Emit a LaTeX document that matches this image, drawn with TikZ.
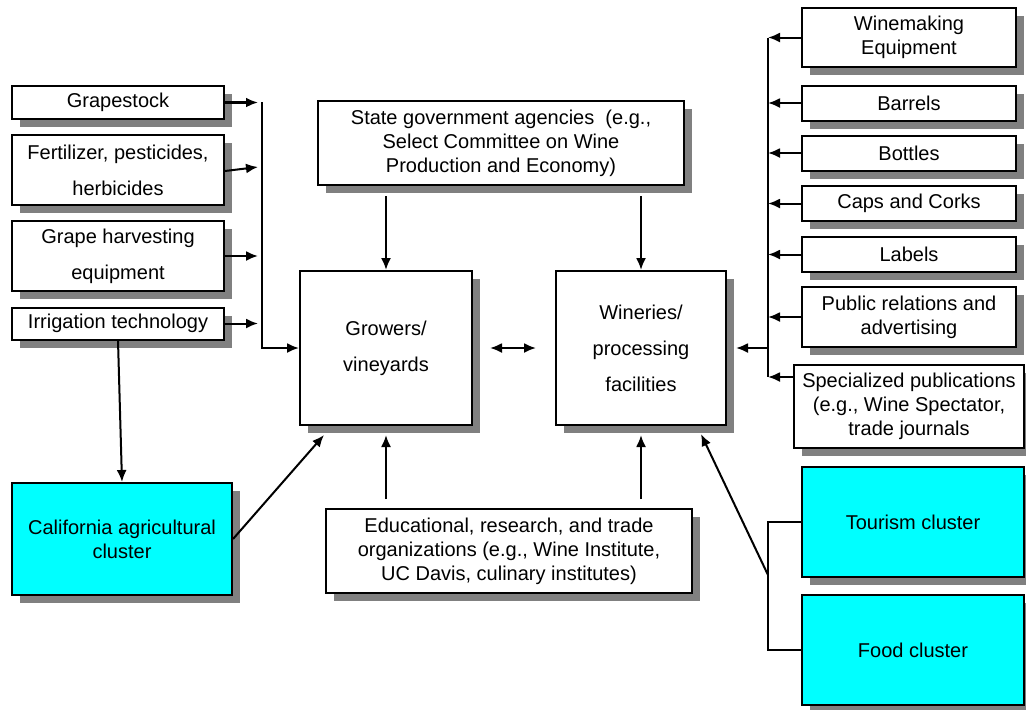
\documentclass[tikz,border=0pt]{standalone}
\usepackage{fontspec}
\setmainfont{Liberation Sans}
\usetikzlibrary{arrows.meta,calc,shadows}
\definecolor{aqua}{RGB}{0,255,255}

\tikzset{
  box/.style={draw, line width=1pt, fill=white, align=center, inner sep=2pt,
    drop shadow={shadow xshift=4pt, shadow yshift=-4pt, fill=black!50, opacity=1},
    font=\fontsize{10}{12}\selectfont},
  widebox/.style={box, font=\fontsize{10}{18}\selectfont},
  cluster/.style={box, fill=aqua},
  arr/.style={line width=1pt, -{Latex[length=6pt,width=5pt]}},
  arrboth/.style={line width=1pt, {Latex[length=6pt,width=5pt]}-{Latex[length=6pt,width=5pt]}},
}

\begin{document}
\begin{tikzpicture}[x=0.5pt,y=-0.5pt]
\useasboundingbox (0,0) rectangle (1026,709);
% suppliers to the growers
\node[box, minimum width=106pt, minimum height=16.5pt] (grape) at (118,102.5) {Grapestock};
\node[widebox, minimum width=106pt, minimum height=35pt] (fert) at (118,170) {Fertilizer, pesticides,\\herbicides};
\node[widebox, minimum width=106pt, minimum height=35pt] (harv) at (118,256) {Grape harvesting\\equipment};
\node[box, minimum width=106pt, minimum height=16pt] (irrig) at (118,323.5) {Irrigation technology};
\node[cluster, minimum width=110pt, minimum height=56pt] (calif) at (122,539) {California agricultural\\cluster};
% core of the cluster
\node[widebox, minimum width=86pt, minimum height=77pt] (grow) at (386,348) {Growers/\\vineyards};
\node[widebox, minimum width=85pt, minimum height=77pt] (winery) at (641,348) {Wineries/\\processing\\facilities};
\node[box, minimum width=183pt, minimum height=42pt] (state) at (501,143) {State government agencies~~(e.g.,\\Select Committee on Wine\\Production and Economy)};
\node[box, minimum width=183pt, minimum height=42pt] (edu) at (509,551) {Educational, research, and trade\\organizations (e.g., Wine Institute,\\UC Davis, culinary institutes)};
% suppliers to the wineries
\node[box, minimum width=107pt, minimum height=29.5pt] (equip) at (909,37.5) {Winemaking\\Equipment};
\foreach \n/\y/\t in {barrel/103/Barrels, bottle/153/Bottles, cork/203.5/Caps and Corks, label/254.5/Labels}{
  \node[box, minimum width=107pt, minimum height=17.5pt] (\n) at (909,\y) {\t};
}
\node[box, minimum width=107pt, minimum height=30pt] (pr) at (909,317) {Public relations and\\advertising};
\node[box, minimum width=115pt, minimum height=41.5pt] (spec) at (909,406.5) {Specialized publications\\(e.g., Wine Spectator,\\trade journals};
\node[cluster, minimum width=111pt, minimum height=55pt] (tour) at (913,522) {Tourism cluster};
\node[cluster, minimum width=111pt, minimum height=55pt] (food) at (913,650) {Food cluster};

% left feed line
\coordinate (lt) at (262,102);
\draw[arr, line width=1.5pt] (grape.east) -- ($(grape.east -| lt)+(-4,0)$);
\draw[arr] ($(fert.east)+(0,1)$) -- ($(fert.east -| lt)+(-4,-3)$);
\draw[arr] (harv.east) -- ($(harv.east -| lt)+(-4,0)$);
\draw[arr] (irrig.east) -- ($(irrig.east -| lt)+(-4,0)$);
\draw[arr] (lt) -- (lt |- grow.west) -- (grow.west);
\draw[arr] (irrig.south) -- (calif.north);
\draw[arr] (calif.east) -- ($(grow.south west)+(25,9)$);
% government and institutions
\draw[arr] ($(state.south -| grow.north)+(0,10)$) -- (grow.north);
\draw[arr] ($(state.south -| winery.north)+(0,10)$) -- (winery.north);
\draw[arr] ($(edu.north -| grow.south)+(0,-9)$) -- ($(grow.south)+(0,9)$);
\draw[arr] ($(edu.north -| winery.south)+(0,-9)$) -- ($(winery.south)+(0,9)$);
\draw[arrboth] ($(grow.east)+(17,0)$) -- ($(winery.west)+(-19,0)$);
% right feed line
\coordinate (rt) at (768,37.5);
\foreach \n in {equip,barrel,bottle,cork,label,pr}{
  \draw[arr] (\n.west) -- (\n.west -| rt);
}
\draw[arr] ($(spec.north west)+(0,13)$) -- ($(spec.north west -| rt)+(0,13)$);
\draw[line width=1pt] (rt) -- ($(spec.north west -| rt)+(0,13)$);
\draw[arr] (winery.east -| rt) -- ($(winery.east)+(9,0)$);
% related clusters
\coordinate (tf) at (768,575);
\draw[line width=1pt] (tour.west) -- (tour.west -| rt) -- (food.west -| rt) -- (food.west);
\draw[arr] (tf) -- ($(winery.south east)+(-26,8)$);
\end{tikzpicture}
\end{document}
